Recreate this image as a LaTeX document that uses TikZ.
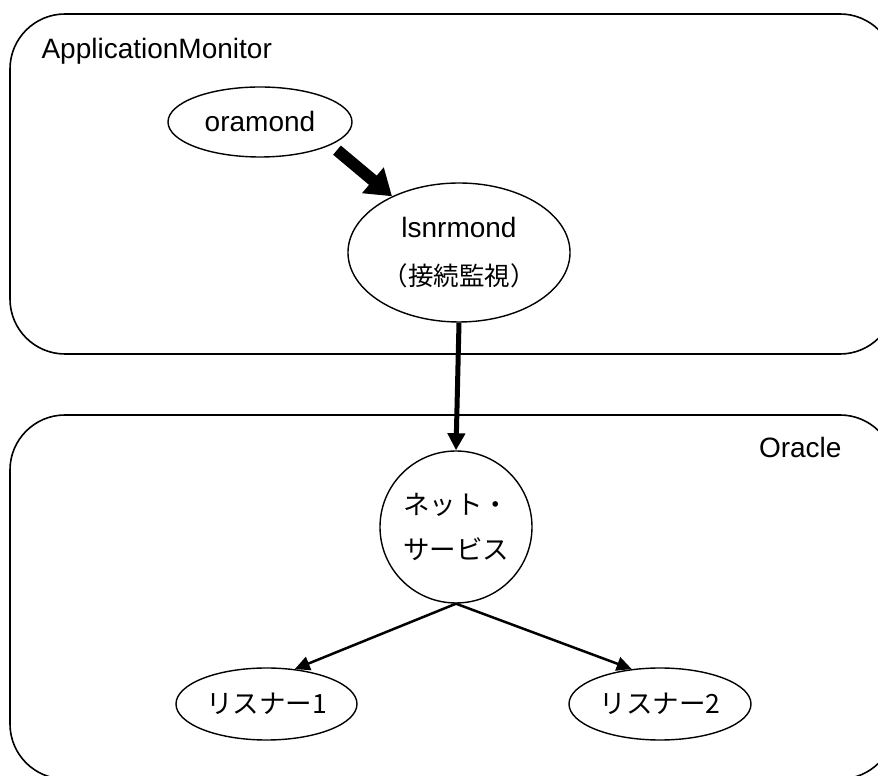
\documentclass[tikz,border=0pt]{standalone}
\usepackage{fontspec}
\setmainfont{Liberation Sans}
\newfontfamily\jpfont{Noto Sans CJK JP}
\usetikzlibrary{shapes.geometric,arrows.meta}

\begin{document}
\begin{tikzpicture}[x=1pt, y=1pt,
  frame/.style={line width=1.6pt, rounded corners=55pt},
  proc/.style={draw, ellipse, line width=1.4pt, inner sep=2pt, align=center},
  lat/.style={font=\fontsize{28}{48}\selectfont},
  jp/.style={font=\jpfont\fontsize{26.5}{44}\selectfont}]
\useasboundingbox (0,0) rectangle (878,776);
\clip (0,0) rectangle (878,776);
  \draw[frame] (10,762) rectangle (895,422);
  \draw[frame] (10,361) rectangle (895,-3);
\node[lat, anchor=base west] (am) at (38,717) {ApplicationMonitor};
\node[lat, anchor=base east] (orc) at (845,318) {Oracle};

\node[proc, lat, minimum width=184pt, minimum height=70pt] (oram) at (260,654) {oramond};
\node[proc, lat, minimum width=218pt, minimum height=139pt] (lsnr) at (459,523.5)
  {lsnrmond\\{\jpfont\fontsize{25.5}{48}\selectfont （接続監視）}};
\node[draw, circle, line width=1.4pt, jp, align=center, inner sep=2pt, minimum size=152pt] (net) at (456,249) {ネット・\\サービス};
\node[proc, jp, minimum width=181pt, minimum height=72pt] (list1) at (266.5,72) {リスナー1};
\node[proc, jp, minimum width=182pt, minimum height=72pt] (list2) at (660,72) {リスナー2};

\draw[line width=12pt, -{Triangle[length=25pt,width=32pt]}, shorten <=8pt] (oram.-18) -- (lsnr.140);
\draw[line width=5pt, -{Triangle[length=17pt,width=17pt]}] (lsnr.south) -- (net.north);
\draw[line width=2.5pt, -{Triangle[length=15pt,width=14pt]}] (net.south) -- (list1.51);
\draw[line width=2.5pt, -{Triangle[length=15pt,width=14pt]}] (net.south) -- (list2.129);

\end{tikzpicture}
\end{document}
